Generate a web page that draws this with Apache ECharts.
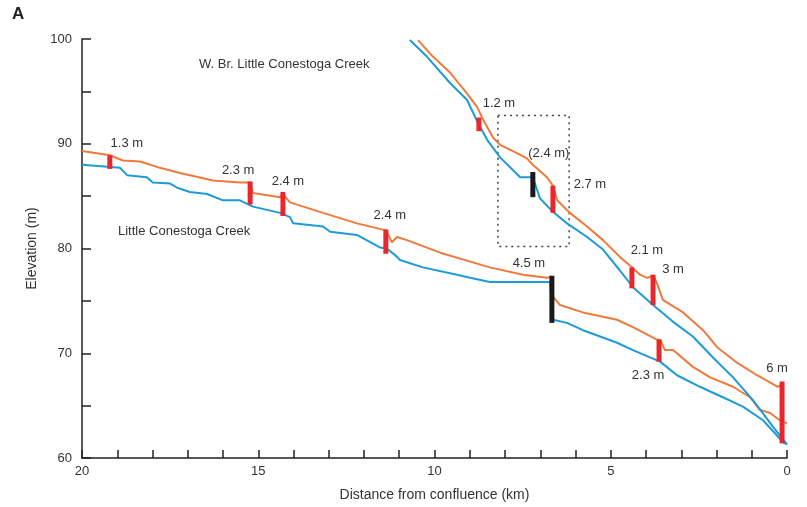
<!DOCTYPE html>
<html>
<head>
<meta charset="utf-8">
<script src="https://cdn.jsdelivr.net/npm/echarts@6/dist/echarts.min.js"></script>
<style>
  html, body { margin: 0; padding: 0; background: #fff; }
  #main { width: 807px; height: 507px; }
</style>
</head>
<body>
<div id="main"></div>
<script>
// Little Conestoga Creek profiles [distance km, elevation m]
const lcOrange = [
  [20.0, 89.3], [19.21, 88.9], [18.84, 88.4], [18.35, 88.3], [17.79, 87.7], [17.22, 87.2],
  [16.28, 86.5], [15.52, 86.3], [15.23, 86.3], [15.15, 85.3], [14.38, 84.9], [14.3, 85.2],
  [14.1, 84.4], [13.16, 83.4], [12.2, 82.4], [11.46, 81.8], [11.38, 81.8], [11.21, 80.6],
  [11.06, 81.1], [10.78, 80.8], [9.84, 79.6], [8.43, 78.2], [7.49, 77.5], [6.81, 77.2],
  [6.67, 77.3], [6.64, 75.4], [6.44, 74.6], [5.79, 73.9], [4.82, 73.2], [4.37, 72.5],
  [3.69, 71.3], [3.6, 71.3], [3.46, 70.3], [3.23, 70.3], [2.67, 68.7], [2.18, 67.7],
  [1.53, 66.8], [1.05, 65.8], [0.77, 64.6], [0.48, 64.3], [0.2, 63.6], [0.0, 63.3]
];
const lcBlue = [
  [20.0, 88.0], [18.92, 87.7], [18.72, 87.0], [18.16, 86.8], [17.99, 86.3], [17.5, 86.2],
  [17.3, 85.8], [16.94, 85.4], [16.45, 85.2], [16.0, 84.6], [15.52, 84.6], [15.15, 84.0],
  [14.38, 83.4], [14.1, 83.0], [14.01, 82.4], [13.16, 82.1], [12.96, 81.6], [12.2, 81.3],
  [11.55, 80.1], [11.35, 80.0], [11.06, 79.2], [10.98, 78.9], [10.33, 78.2], [9.36, 77.5],
  [8.99, 77.2], [8.43, 76.8], [6.72, 76.8], [6.64, 73.2], [6.24, 72.9], [5.79, 72.2],
  [5.3, 71.6], [4.82, 71.0], [4.37, 70.3], [3.89, 69.6], [3.6, 69.2], [3.12, 67.9],
  [2.47, 66.8], [1.82, 65.8], [1.25, 64.9], [0.68, 63.6], [0.11, 61.5], [0.0, 61.3]
];
// W. Br. Little Conestoga Creek profiles
const wbOrange = [
  [10.47, 99.9], [10.04, 98.3], [9.56, 96.8], [9.08, 94.8], [8.79, 93.5], [8.62, 92.3],
  [8.34, 90.6], [8.14, 89.9], [7.66, 89.1], [7.38, 88.6], [7.21, 88.0], [6.81, 86.8],
  [6.64, 86.0], [6.52, 84.6], [6.16, 83.4], [5.67, 82.1], [5.22, 80.8], [4.74, 79.2],
  [4.4, 78.2], [4.17, 77.5], [3.97, 77.2], [3.8, 77.4], [3.69, 76.7], [3.52, 75.1],
  [2.95, 73.9], [2.38, 72.2], [1.99, 70.6], [1.42, 69.1], [0.85, 67.9], [0.26, 66.8],
  [0.14, 67.0]
];
const wbBlue = [
  [10.7, 99.9], [10.21, 98.3], [9.56, 95.8], [9.08, 94.2], [8.77, 92.0], [8.51, 90.4],
  [8.14, 88.7], [7.57, 86.8], [7.21, 86.8], [7.01, 84.8], [6.64, 83.5], [6.24, 82.4],
  [5.67, 81.1], [5.22, 79.9], [4.74, 77.9], [4.37, 76.3], [3.8, 74.6], [3.23, 73.0],
  [2.67, 71.6], [2.1, 69.6], [1.53, 67.7], [0.96, 65.5], [0.4, 63.0], [0.0, 61.3]
];
// dams: position, top and bottom elevation, height label, kind
const damKm = [19.21, 15.23, 14.30, 11.38, 6.67, 3.63, 8.74, 7.21, 6.64, 4.40, 3.80, 0.14];
const damTop = [88.9, 86.4, 85.4, 81.8, 77.4, 71.3, 92.5, 87.3, 86.0, 78.2, 77.5, 67.3];
const damBottom = [87.6, 84.2, 83.1, 79.5, 72.9, 69.2, 91.2, 84.9, 83.4, 76.2, 74.6, 61.4];
const damLabels = ['1.3 m', '2.3 m', '2.4 m', '2.4 m', '4.5 m', '2.3 m', '1.2 m', '(2.4 m)', '2.7 m', '2.1 m', '3 m', '6 m'];
const damKind = ['r', 'r', 'r', 'r', 'b', 'r', 'r', 'b', 'r', 'r', 'r', 'r'];

// label offset in px from the top of each dam bar
const damLabelOffset = [[17, -12], [-12, -11], [5, -11], [4, -14], [-23, -12], [-11, 36],
  [20, -14], [16, -19], [37, -1], [15, -17], [20, -5], [-5, -13]];

const ORANGE = '#ef7a3c';
const BLUE = '#1d9bd7';
const FONT = '"Liberation Sans", Arial, sans-serif';

const chart = echarts.init(document.getElementById('main'));

const lineSeries = (data, color) => ({
  type: 'line',
  data: data,
  showSymbol: false,
  symbol: 'none',
  lineStyle: { color: color, width: 2 },
  z: 2,
  silent: true
});

const option = {
  animation: false,
  backgroundColor: '#fff',
  grid: { left: 82, right: 20, top: 39, bottom: 49 },
  xAxis: {
    type: 'value',
    inverse: true,
    min: 0,
    max: 20,
    interval: 5,
    name: 'Distance from confluence (km)',
    nameLocation: 'middle',
    nameGap: 30,
    nameTextStyle: { color: '#333', fontSize: 14, fontFamily: FONT },
    axisLine: { onZero: false, lineStyle: { color: '#222', width: 1.5 } },
    axisTick: { inside: true, length: 8, lineStyle: { color: '#222', width: 1.5 } },
    minorTick: { show: true, splitNumber: 5, length: 8, lineStyle: { color: '#222', width: 1.5 } },
    axisLabel: { color: '#333', fontSize: 13, fontFamily: FONT, margin: 7 },
    splitLine: { show: false }
  },
  yAxis: {
    type: 'value',
    position: 'left',
    min: 60,
    max: 100,
    interval: 10,
    name: 'Elevation (m)',
    nameLocation: 'middle',
    nameGap: 33,
    nameTextStyle: { color: '#333', fontSize: 14, fontFamily: FONT },
    axisLine: { show: true, onZero: false, lineStyle: { color: '#222', width: 1.5 } },
    axisTick: { show: true, inside: true, length: 9, lineStyle: { color: '#222', width: 1.5 } },
    minorTick: { show: true, splitNumber: 2, length: 9, lineStyle: { color: '#222', width: 1.5 } },
    axisLabel: { color: '#333', fontSize: 13, fontFamily: FONT, margin: 10 },
    splitLine: { show: false }
  },
  graphic: [
    { type: 'text', left: 12, top: 6, style: { text: 'A', font: 'bold 17px ' + FONT, fill: '#222' } },
    { type: 'text', left: 199, top: 58, style: { text: 'W. Br. Little Conestoga Creek', font: '13px ' + FONT, fill: '#333' } },
    { type: 'text', left: 118, top: 225, style: { text: 'Little Conestoga Creek', font: '13px ' + FONT, fill: '#333' } }
  ],
  series: [
    Object.assign(lineSeries(lcOrange, ORANGE), {
      markArea: {
        silent: true,
        itemStyle: { color: 'rgba(0,0,0,0)', borderColor: '#444', borderWidth: 1.5, borderType: [2, 4] },
        data: [[{ coord: [8.2, 92.7] }, { coord: [6.18, 80.2] }]]
      }
    }),
    lineSeries(lcBlue, BLUE),
    lineSeries(wbOrange, ORANGE),
    lineSeries(wbBlue, BLUE),
    {
      type: 'custom',
      z: 5,
      silent: true,
      encode: { x: 0, y: [1, 2] },
      data: damKm.map((k, i) => [k, damTop[i], damBottom[i]]),
      renderItem: function (params, api) {
        const i = params.dataIndex;
        const p1 = api.coord([api.value(0), api.value(1)]);
        const p2 = api.coord([api.value(0), api.value(2)]);
        const off = damLabelOffset[i];
        return {
          type: 'group',
          children: [
            {
              type: 'rect',
              shape: { x: p1[0] - 2.5, y: p1[1], width: 5, height: p2[1] - p1[1] },
              style: { fill: damKind[i] === 'b' ? '#1a1a1a' : '#e8262b' }
            },
            {
              type: 'text',
              x: p1[0] + off[0],
              y: p1[1] + off[1],
              style: {
                text: damLabels[i],
                align: 'center',
                verticalAlign: 'middle',
                fill: '#333',
                font: '13px ' + FONT
              }
            }
          ]
        };
      }
    }
  ]
};

chart.setOption(option);
</script>
</body>
</html>
